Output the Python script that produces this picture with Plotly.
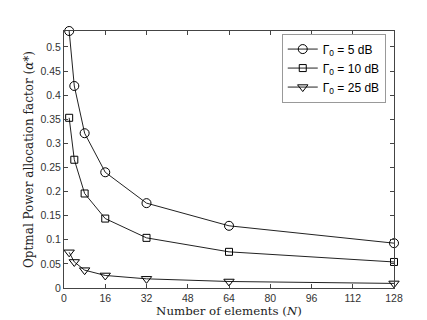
import plotly.graph_objects as go

# number of elements
N = [2, 4, 8, 16, 32, 64, 128]
# optimal power allocation factor per Gamma_0
alpha_5dB = [0.533, 0.419, 0.321, 0.240, 0.176, 0.129, 0.093]
alpha_10dB = [0.353, 0.266, 0.196, 0.144, 0.104, 0.075, 0.054]
alpha_25dB = [0.074, 0.054, 0.037, 0.026, 0.019, 0.0135, 0.0095]

series = [
    ('Γ<sub>0</sub> = 5 dB', alpha_5dB, 'circle-open', 9),
    ('Γ<sub>0</sub> = 10 dB', alpha_10dB, 'square-open', 7),
    ('Γ<sub>0</sub> = 25 dB', alpha_25dB, 'triangle-down-open', 9),
]

fig = go.Figure()
for name, vals, sym, sz in series:
    fig.add_trace(go.Scatter(x=N, y=vals, name=name, mode='lines+markers',
                             line=dict(color='#222222', width=1),
                             marker=dict(symbol=sym, size=sz, color='black',
                                         line=dict(color='black', width=1)),
                             cliponaxis=False))

ax = dict(showline=True, mirror='ticks', linecolor='#444444', linewidth=1,
          ticks='inside', ticklen=4, tickcolor='#444444', showgrid=False,
          zeroline=False, tickfont=dict(family='Liberation Sans, Arial', size=10.5, color='#333333'))

fig.update_layout(
    width=427, height=320,
    margin=dict(l=56, r=41, t=23, b=35),
    paper_bgcolor='white', plot_bgcolor='white',
    showlegend=True,
    legend=dict(x=0.975, y=0.99, xanchor='right', yanchor='top',
                bordercolor='#999999', borderwidth=1, bgcolor='white',
                font=dict(family='Liberation Sans, Arial', size=12, color='black'),
                tracegroupgap=0, itemwidth=30),
    xaxis=dict(ax, range=[0, 128], tickvals=list(range(0, 129, 16)),
               title=dict(text='Number of elements (<i>N</i>)', standoff=4,
                          font=dict(family='DejaVu Serif', size=11.8, color='#222222'))),
    yaxis=dict(ax, range=[0, 0.533], tickvals=[0, 0.05, 0.1, 0.15, 0.2, 0.25, 0.3, 0.35, 0.4, 0.45, 0.5],
               ticktext=['0', '0.05', '0.1', '0.15', '0.2', '0.25', '0.3', '0.35', '0.4', '0.45', '0.5'],
               title=dict(text='Optmal Power allocation factor (<i>α</i>*)', standoff=4,
                          font=dict(family='DejaVu Serif', size=12, color='#222222'))),
)

fig.write_html("out.html")
